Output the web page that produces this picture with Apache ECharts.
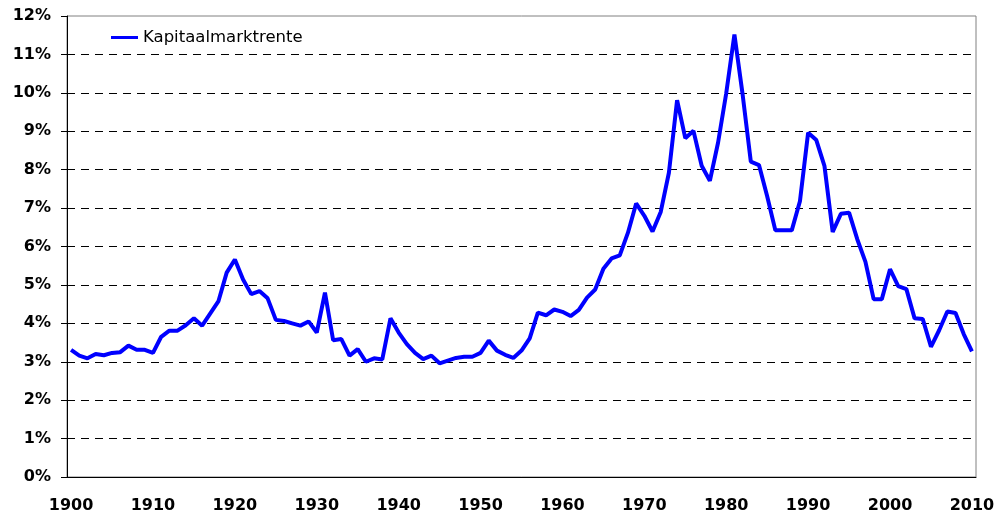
<!DOCTYPE html>
<html>
<head>
<meta charset="utf-8">
<script src="https://cdn.jsdelivr.net/npm/echarts@6/dist/echarts.min.js"></script>
<style>
  html, body { margin: 0; padding: 0; background: #fff; }
  #chart { width: 1000px; height: 514px; }
</style>
</head>
<body>
<div id="chart"></div>
<script>
// jaren 1900 t/m 2010
const firstYear = 1900;
const lastYear = 2010;
const years = [];
for (let y = firstYear; y <= lastYear; y++) years.push(String(y));

// kapitaalmarktrente in %
const rente1900s = [3.31, 3.16, 3.09, 3.20, 3.17, 3.23, 3.25, 3.42, 3.31, 3.31];
const rente1910s = [3.23, 3.65, 3.81, 3.81, 3.95, 4.13, 3.94, 4.26, 4.58, 5.32];
const rente1920s = [5.66, 5.14, 4.76, 4.84, 4.65, 4.09, 4.06, 4.00, 3.94, 4.05];
const rente1930s = [3.76, 4.80, 3.56, 3.59, 3.16, 3.33, 3.00, 3.09, 3.06, 4.13];
const rente1940s = [3.76, 3.46, 3.23, 3.07, 3.16, 2.96, 3.03, 3.10, 3.13, 3.13];
const rente1950s = [3.23, 3.55, 3.29, 3.18, 3.10, 3.29, 3.61, 4.28, 4.21, 4.36];
const rente1960s = [4.30, 4.19, 4.35, 4.67, 4.88, 5.42, 5.69, 5.77, 6.36, 7.12];
const rente1970s = [6.80, 6.39, 6.90, 7.92, 9.81, 8.82, 9.01, 8.10, 7.71, 8.70];
const rente1980s = [9.99, 11.52, 9.96, 8.21, 8.12, 7.31, 6.42, 6.42, 6.42, 7.18];
const rente1990s = [8.96, 8.77, 8.09, 6.38, 6.85, 6.88, 6.19, 5.60, 4.63, 4.63];
const rente2000s = [5.41, 4.97, 4.89, 4.13, 4.11, 3.39, 3.82, 4.31, 4.27, 3.72, 3.27];

const rente = [].concat(rente1900s, rente1910s, rente1920s, rente1930s, rente1940s,
  rente1950s, rente1960s, rente1970s, rente1980s, rente1990s, rente2000s);

const yTicks = [0, 1, 2, 3, 4, 5, 6, 7, 8, 9, 10, 11, 12];

const chart = echarts.init(document.getElementById('chart'));

// gestippelde rasterlijnen, bovenste (12%) valt weg in de grijze rand
const gridColors = yTicks.map((t, i) => i === yTicks.length - 1 ? 'rgba(0,0,0,0)' : '#000');

chart.setOption({
  animation: false,
  backgroundColor: '#fff',
  grid: {
    left: 67, right: 24, top: 16, bottom: 37,
    show: true,
    borderColor: '#808080',
    borderWidth: 1,
  },
  legend: {
    data: ['Kapitaalmarktrente'],
    left: 106,
    top: 24,
    icon: 'rect',
    itemWidth: 27,
    itemHeight: 3,
    textStyle: { fontFamily: 'DejaVu Sans', fontSize: 16.5, color: '#000' },
  },
  xAxis: {
    type: 'category',
    data: years,
    boundaryGap: true,
    axisLine: { lineStyle: { color: '#000', width: 1 } },
    axisTick: { interval: 9, length: 5, lineStyle: { color: '#000' } },
    axisLabel: {
      interval: 9,
      margin: 21,
      fontFamily: 'DejaVu Sans',
      fontWeight: 'bold',
      fontSize: 16,
      color: '#000',
    },
    splitLine: { show: false },
  },
  yAxis: {
    type: 'value',
    min: yTicks[0],
    max: yTicks[yTicks.length - 1],
    interval: 1,
    axisLine: { show: true, lineStyle: { color: '#000', width: 1 } },
    axisTick: { show: true, length: 6, lineStyle: { color: '#000' } },
    axisLabel: {
      margin: 16,
      formatter: '{value}%',
      fontFamily: 'DejaVu Sans',
      fontWeight: 'bold',
      fontSize: 16,
      color: '#000',
    },
    splitLine: {
      show: true,
      lineStyle: { color: gridColors, type: [8, 6], width: 1 },
    },
  },
  series: [{
    name: 'Kapitaalmarktrente',
    type: 'line',
    data: rente,
    symbol: 'none',
    smooth: false,
    lineStyle: { color: '#0000ff', width: 4 },
    itemStyle: { color: '#0000ff' },
  }],
});
</script>
</body>
</html>
